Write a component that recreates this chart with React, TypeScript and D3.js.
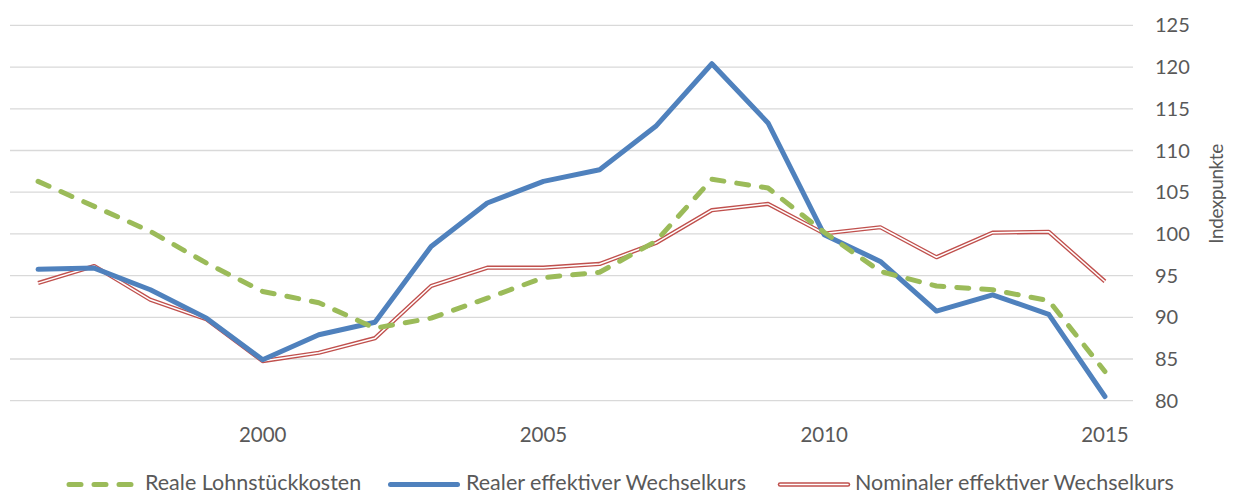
import React from "react";
import * as d3 from "d3";

const years = [1996,1997,1998,1999,2000,2001,2002,2003,2004,2005,2006,2007,2008,2009,2010,2011,2012,2013,2014,2015];
const realeLohnstueckkosten = [106.3,103.3,100.3,96.5,93.1,91.75,88.7,89.9,92.3,94.75,95.4,99.1,106.55,105.5,100.2,95.5,93.75,93.3,92.0,83.5];
const realerWechselkurs = [95.75,95.9,93.3,89.9,84.9,87.9,89.4,98.5,103.7,106.3,107.7,112.9,120.4,113.3,99.9,96.7,90.75,92.7,90.35,80.5];
const nominalerWechselkurs = [94.1,96.15,92.1,89.75,84.75,85.75,87.5,93.75,95.95,95.95,96.4,98.9,102.85,103.6,100.05,100.8,97.2,100.15,100.25,94.3];
const yTicks = [80,85,90,95,100,105,110,115,120,125];
const xTickYears = [2000,2005,2010,2015];
const legendLabels = ["Reale Lohnstückkosten","Realer effektiver Wechselkurs","Nominaler effektiver Wechselkurs"];

const W = 1234, H = 495;
const plotLeft = 10, plotRight = 1133, plotTop = 25.4, plotBottom = 400.7;
const FONT = "Lato, sans-serif";
const TXT = "#595959";
const GREEN = "#9BBB59", BLUE = "#4F81BD", RED = "#C0504D";
const LEG_LINE_Y = 484.5;
const LEG_BASE_Y = 489.5;

export default function App() {
  const x = d3.scaleBand<number>().domain(years).range([plotLeft, plotRight]);
  const cx = (yr: number) => (x(yr) as number) + x.bandwidth() / 2;
  const y = d3.scaleLinear().domain([80, 125]).range([plotBottom, plotTop]);
  const line = d3.line<number>().x((_, i) => cx(years[i])).y((v) => y(v));

  return (
    <div style={{ position: "fixed", left: 0, top: 0 }}>
      <svg width={W} height={H} style={{ display: "block", background: "#fff" }}>
        {yTicks.map((t) => (
          <line key={"g" + t} x1={plotLeft} x2={plotRight} y1={y(t)} y2={y(t)} stroke="#D9D9D9" strokeWidth={1.3} />
        ))}
        {yTicks.map((t) => (
          <text key={"yt" + t} x={1155} y={y(t)} dy="0.35em" fontFamily={FONT} fontSize={20} fill={TXT}>{t}</text>
        ))}
        {xTickYears.map((t) => (
          <text key={"xt" + t} x={cx(t)} y={435} dy="0.35em" textAnchor="middle" fontFamily={FONT} fontSize={20.5} fill={TXT}>{t}</text>
        ))}
        <text transform={`translate(1216,194) rotate(-90)`} textAnchor="middle" dy="0.35em" fontFamily={FONT} fontSize={19} letterSpacing={-0.4} fill={TXT}>Indexpunkte</text>

        <path d={line(nominalerWechselkurs) || ""} fill="none" stroke={RED} strokeWidth={4.2} strokeLinejoin="round" />
        <path d={line(nominalerWechselkurs) || ""} fill="none" stroke="#fff" strokeWidth={1.5} strokeLinejoin="round" />
        <path d={line(realerWechselkurs) || ""} fill="none" stroke={BLUE} strokeWidth={5} strokeLinejoin="round" strokeLinecap="round" />
        <path d={line(realeLohnstueckkosten) || ""} fill="none" stroke={GREEN} strokeWidth={5} strokeDasharray="12 13" strokeLinecap="round" strokeLinejoin="round" />

        <g>
          <line x1={69} x2={131} y1={LEG_LINE_Y} y2={LEG_LINE_Y} stroke={GREEN} strokeWidth={5} strokeDasharray="12 13" strokeLinecap="round" />
          <text x={145} y={LEG_BASE_Y} fontFamily={FONT} fontSize={21.5} fill={TXT}>{legendLabels[0]}</text>
          <line x1={390.5} x2={457.5} y1={LEG_LINE_Y} y2={LEG_LINE_Y} stroke={BLUE} strokeWidth={5} strokeLinecap="round" />
          <text x={466} y={LEG_BASE_Y} fontFamily={FONT} fontSize={21.5} fill={TXT}>{legendLabels[1]}</text>
          <line x1={780} x2={848} y1={LEG_LINE_Y} y2={LEG_LINE_Y} stroke={RED} strokeWidth={4.5} strokeLinecap="round" />
          <line x1={780} x2={848} y1={LEG_LINE_Y} y2={LEG_LINE_Y} stroke="#fff" strokeWidth={1.5} strokeLinecap="round" />
          <text x={855} y={LEG_BASE_Y} fontFamily={FONT} fontSize={21.5} fill={TXT}>{legendLabels[2]}</text>
        </g>
      </svg>
    </div>
  );
}
